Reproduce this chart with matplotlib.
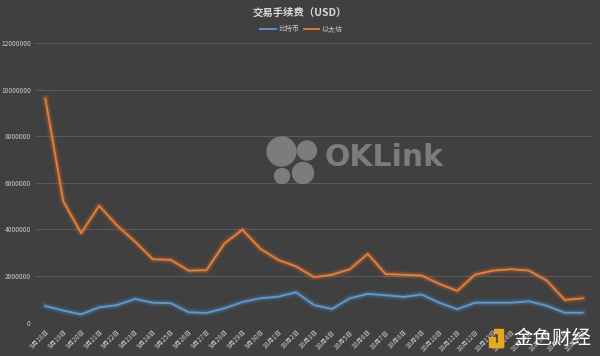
import numpy as np
import matplotlib.pyplot as plt
from matplotlib.patches import Circle, Rectangle
from matplotlib.transforms import IdentityTransform

plt.rcParams['font.family'] = ['Noto Sans CJK SC', 'DejaVu Sans']

# Data
dates = ['9月18日', '9月19日', '9月20日', '9月21日', '9月22日', '9月23日', '9月24日',
         '9月25日', '9月26日', '9月27日', '9月28日', '9月29日', '9月30日', '10月1日',
         '10月2日', '10月3日', '10月4日', '10月5日', '10月6日', '10月7日', '10月8日',
         '10月9日', '10月10日', '10月11日', '10月12日', '10月13日', '10月14日',
         '10月15日', '10月16日', '10月17日', '10月18日']
btc = [710000, 510000, 350000, 650000, 750000, 1010000, 850000, 830000, 440000, 410000,
       610000, 880000, 1040000, 1110000, 1300000, 750000, 580000, 1040000, 1230000,
       1170000, 1100000, 1200000, 850000, 570000, 850000, 850000, 850000, 910000,
       720000, 420000, 420000]
eth = [9620000, 5210000, 3840000, 5020000, 4170000, 3480000, 2720000, 2690000, 2230000,
       2250000, 3400000, 3990000, 3170000, 2690000, 2410000, 1950000, 2050000, 2290000,
       2950000, 2080000, 2050000, 2020000, 1660000, 1360000, 2060000, 2230000, 2290000,
       2230000, 1800000, 970000, 1040000]
label_btc = '比特币'
label_eth = '以太坊'
text_title = '交易手续费（USD）'

# Plot Parameters
bg = '#404040'
color_btc = '#5b9bd5'
color_eth = '#ed7d31'
color_text = '#c8c8c8'
W, H = 600, 356

fig = plt.figure(figsize=(6, 3.56), dpi=100, facecolor=bg)
ax = fig.add_axes([0.0607, 0.0941, 0.9253, 0.7843], facecolor=bg)

x = np.arange(len(dates))
for vals, col in [(btc, color_btc), (eth, color_eth)]:
    # soft glow
    for lw, a in [(6, 0.06), (4.5, 0.1), (3, 0.18)]:
        ax.plot(x, vals, color=col, lw=lw, alpha=a, solid_joinstyle='round', zorder=2)
    ax.plot(x, vals, color=col, lw=1.3, zorder=3)

ax.set_xlim(-0.5, len(dates) - 0.5)
ax.set_ylim(0, 12000000)
ax.set_yticks(np.arange(0, 12000001, 2000000))
ax.set_yticklabels([str(v) for v in range(0, 12000001, 2000000)])
ax.set_xticks(x)
ax.set_xticklabels(dates, rotation=45, ha='right', rotation_mode='anchor')
ax.tick_params(axis='both', length=0, labelsize=4.8, colors=color_text, pad=4)
ax.yaxis.grid(True, color='#5a5a5a', lw=0.8)
ax.get_ygridlines()[0].set_visible(False)
for s in ax.spines.values():
    s.set_visible(False)

# title + legend
fig.text(0.5, 0.965, text_title, ha='center', va='center', fontsize=7.5,
         fontweight='bold', color='#d9d9d9')
fig.add_artist(plt.Line2D([260 / W, 276 / W], [0.918, 0.918], color=color_btc, lw=1.3))
fig.text(278 / W, 0.918, label_btc, ha='left', va='center', fontsize=5, color=color_text)
fig.add_artist(plt.Line2D([304 / W, 319 / W], [0.918, 0.918], color=color_eth, lw=1.3))
fig.text(321 / W, 0.918, label_eth, ha='left', va='center', fontsize=5, color=color_text)

# OKLink watermark (pixel coordinates, y from top)
wm = '#7c7c7c'
px = IdentityTransform()
for cx, cy, r in [(281.5, 151.5, 14.5), (307, 150.5, 9.5), (282, 176, 7.5), (303, 173, 10.5)]:
    fig.add_artist(Circle((cx, H - cy), r, color=wm, transform=px, zorder=1))
fig.text(325 / W, 1 - 158 / H, 'OKLink', ha='left', va='center', fontsize=21.5,
         fontweight='bold', color=wm, family='DejaVu Sans', zorder=1)

# 金色财经 watermark
logo = '#e8a81e'
for rx, ry, rw, rh in [(489, 337, 6, 5), (494, 329, 4, 4), (498, 329, 5, 18), (489, 343, 14, 4)]:
    fig.add_artist(Rectangle((rx, H - ry - rh), rw, rh, color=logo, transform=px, zorder=4))
fig.text(513 / W, 1 - 338 / H, '金色财经', ha='left', va='center', fontsize=14,
         color='#ffffff', zorder=4)

plt.savefig('out.png', dpi=100, facecolor=bg)
